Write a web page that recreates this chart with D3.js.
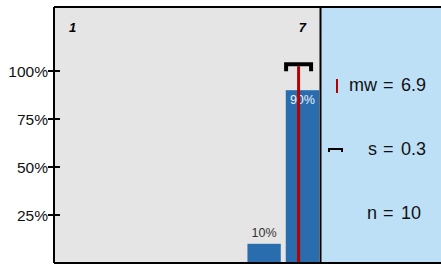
<!DOCTYPE html>
<html><head><meta charset="utf-8">
<script src="https://cdn.jsdelivr.net/npm/d3@7/dist/d3.min.js"></script>
<style>html,body{margin:0;padding:0;background:#fff;}svg{display:block;font-family:"Liberation Sans",Arial,sans-serif;}</style>
</head><body>
<script>
const categories = [1, 2, 3, 4, 5, 6, 7];
const shares = [0, 0, 0, 0, 0, 0.1, 0.9];
const tickValues = [0.25, 0.5, 0.75, 1.0];
const edgeLabels = [1, 7];
const meanValue = 6.9;
const sdValue = 0.3;
const nValue = 10;
const statNames = ["mw", "s", "n"];
const statTexts = ["6.9", "0.3", "10"];

const W = 441, H = 264;
const L = 54, T = 7, R = 321, B = 263;
const svg = d3.select("body").append("svg").attr("width", W).attr("height", H);

// backgrounds
svg.append("rect").attr("x", L).attr("y", T).attr("width", R - L).attr("height", B - T).attr("fill", "#e5e5e5");
svg.append("rect").attr("x", R).attr("y", T).attr("width", W - R).attr("height", B - T).attr("fill", "#bee0f7");

const x = d3.scaleBand().domain(categories).range([L, R]).paddingInner(0.13).paddingOuter(0.05);
const y = d3.scaleLinear().domain([0, 1]).range([B, 71]);
const xc = v => x(categories[0]) + x.bandwidth() / 2 + (v - categories[0]) * x.step();

// bars
const data = categories.map((c, i) => ({c, v: shares[i]})).filter(d => d.v > 0);
svg.selectAll("rect.bar").data(data).join("rect").attr("class", "bar")
  .attr("x", d => x(d.c)).attr("width", x.bandwidth())
  .attr("y", d => y(d.v)).attr("height", d => y(0) - y(d.v))
  .attr("fill", "#2a6dae");

// bar labels
svg.selectAll("text.bl").data(data).join("text").attr("class", "bl")
  .attr("x", d => x(d.c) + x.bandwidth() / 2)
  .attr("y", d => d.v > 0.5 ? y(d.v) + 14 : y(d.v) - 7)
  .attr("text-anchor", "middle").attr("font-size", 12.5)
  .attr("fill", d => d.v > 0.5 ? "#eef2f7" : "#333")
  .text(d => Math.round(d.v * 100) + "%");

// edge category labels
svg.selectAll("text.el").data(edgeLabels).join("text").attr("class", "el")
  .attr("x", d => x(d) + x.bandwidth() / 2).attr("y", 32)
  .attr("text-anchor", "middle").attr("font-size", 13).attr("font-weight", "bold").attr("font-style", "italic")
  .attr("fill", "#000").text(d => d);

// sd bracket and mean line
const by = y(1.035);
svg.append("line").attr("x1", xc(meanValue)).attr("x2", xc(meanValue)).attr("y1", by + 2).attr("y2", B)
  .attr("stroke", "#b30000").attr("stroke-width", 3);
svg.append("path")
  .attr("d", `M${xc(meanValue - sdValue) - 1},${by + 5}V${by}H${xc(meanValue + sdValue) + 1}V${by + 5}`)
  .attr("fill", "none").attr("stroke", "#000").attr("stroke-width", 4).attr("stroke-linecap", "square");

// frame lines
svg.append("line").attr("x1", L).attr("x2", W).attr("y1", T).attr("y2", T).attr("stroke", "#000").attr("stroke-width", 2);
svg.append("line").attr("x1", L).attr("x2", W).attr("y1", B).attr("y2", B).attr("stroke", "#000").attr("stroke-width", 2);
svg.append("line").attr("x1", L).attr("x2", L).attr("y1", T).attr("y2", B).attr("stroke", "#000").attr("stroke-width", 2);
svg.append("line").attr("x1", R - 0.5).attr("x2", R - 0.5).attr("y1", T).attr("y2", B).attr("stroke", "#000").attr("stroke-width", 2);

// y ticks
const yt = svg.append("g");
yt.selectAll("line").data(tickValues).join("line")
  .attr("x1", L - 6).attr("x2", L + 6).attr("y1", d => y(d)).attr("y2", d => y(d))
  .attr("stroke", "#000").attr("stroke-width", 2);
yt.selectAll("text").data(tickValues).join("text")
  .attr("x", L - 6).attr("y", d => y(d)).attr("dy", "0.36em")
  .attr("text-anchor", "end").attr("font-size", 15.5).attr("fill", "#111")
  .text(d3.format(".0%"));

// legend
const ly = [85, 149, 213];
svg.append("line").attr("x1", 337).attr("x2", 337).attr("y1", ly[0] - 6).attr("y2", ly[0] + 8)
  .attr("stroke", "#b30000").attr("stroke-width", 2);
svg.append("path").attr("d", `M329,${ly[1] + 3}V${ly[1]}H342V${ly[1] + 3}`)
  .attr("fill", "none").attr("stroke", "#000").attr("stroke-width", 2);
const lg = svg.append("g").attr("font-size", 18).attr("fill", "#111");
statNames.forEach((nm, i) => {
  lg.append("text").attr("x", 377).attr("y", ly[i]).attr("dy", "0.35em").attr("text-anchor", "end").text(nm);
  lg.append("text").attr("x", 383).attr("y", ly[i]).attr("dy", "0.35em").text("=");
  lg.append("text").attr("x", 401).attr("y", ly[i]).attr("dy", "0.35em").text(statTexts[i]);
});
</script>
</body></html>
